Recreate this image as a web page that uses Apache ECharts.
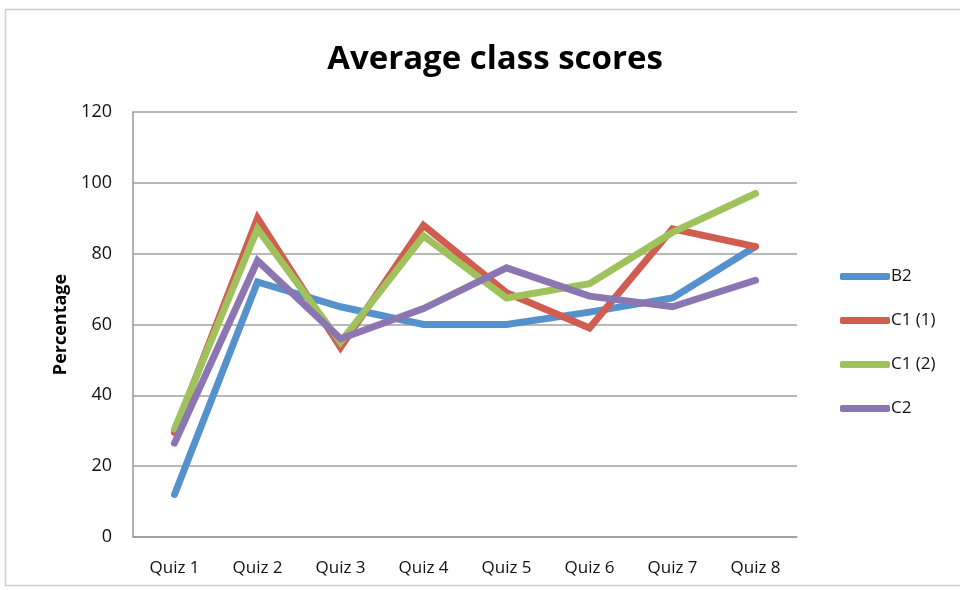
<!DOCTYPE html>
<html>
<head>
    <meta charset="utf-8">
    <script src="https://cdn.jsdelivr.net/npm/echarts@6/dist/echarts.min.js"></script>
    <style>
        html, body { margin: 0; padding: 0; background: #fff; }
    </style>
</head>
<body>
<div id="main" style="width: 960px;height:590px;"></div>
<script>
  // 数据
  var quizzes = ['Quiz 1', 'Quiz 2', 'Quiz 3', 'Quiz 4', 'Quiz 5', 'Quiz 6', 'Quiz 7', 'Quiz 8'];
  var b2 = [12, 72, 65, 60, 60, 63.5, 67.5, 82];
  var c1a = [29.5, 90, 53.5, 88, 69, 59, 87, 82];
  var c1b = [30.5, 87, 55, 85, 67.5, 71.5, 86, 97];
  var c2 = [26.5, 78, 56, 64.5, 76, 68, 65, 72.5];

  var myChart = echarts.init(document.getElementById('main'));
  var font = 'Open Sans';

  function line(name, data, color) {
    return {
      name: name,
      type: 'line',
      data: data,
      symbol: 'none',
      lineStyle: { width: 7, color: color, cap: 'round', join: 'miter' },
      itemStyle: { color: color }
    };
  }

  var option = {
    animation: false,
    backgroundColor: '#fff',
    graphic: [{
      type: 'rect',
      shape: { x: 5.5, y: 9.5, width: 1000, height: 576 },
      style: { fill: 'none', stroke: '#d0d0d0', lineWidth: 1.5 }
    }],
    title: {
      text: 'Average class scores',
      left: 490,
      top: 38,
      textAlign: 'center',
      textStyle: { fontFamily: font, fontSize: 33, fontWeight: 'bold', color: '#000' }
    },
    legend: {
      orient: 'vertical',
      left: 835,
      top: 263,
      itemWidth: 50,
      itemHeight: 7,
      itemGap: 27,
      icon: 'roundRect',
      textStyle: { fontFamily: font, fontSize: 17, color: '#111', padding: [0, 0, 0, -4] },
      data: ['B2', 'C1 (1)', 'C1 (2)', 'C2']
    },
    grid: { left: 133, right: 163, top: 112, bottom: 53 },
    xAxis: {
      type: 'category',
      data: quizzes,
      boundaryGap: true,
      axisLine: { lineStyle: { color: '#999', width: 1.5 } },
      axisTick: { show: false },
      axisLabel: { fontFamily: font, fontSize: 17, color: '#111', margin: 23 }
    },
    yAxis: {
      type: 'value',
      min: 0,
      max: 120,
      interval: 20,
      name: 'Percentage',
      nameLocation: 'middle',
      nameGap: 62,
      nameTextStyle: { fontFamily: font, fontSize: 18, fontWeight: 'bold', color: '#000' },
      axisLine: { show: true, lineStyle: { color: '#999', width: 1.5 } },
      axisTick: { show: false },
      axisLabel: { fontFamily: font, fontSize: 18, color: '#111', margin: 21 },
      splitLine: { lineStyle: { color: '#a0a0a0', width: 1.5 } }
    },
    series: [
      line('B2', b2, '#5592CC'),
      line('C1 (1)', c1a, '#D15C50'),
      line('C1 (2)', c1b, '#A0C25D'),
      line('C2', c2, '#8C76B2')
    ]
  };
  myChart.setOption(option);
</script>
</body>
</html>
